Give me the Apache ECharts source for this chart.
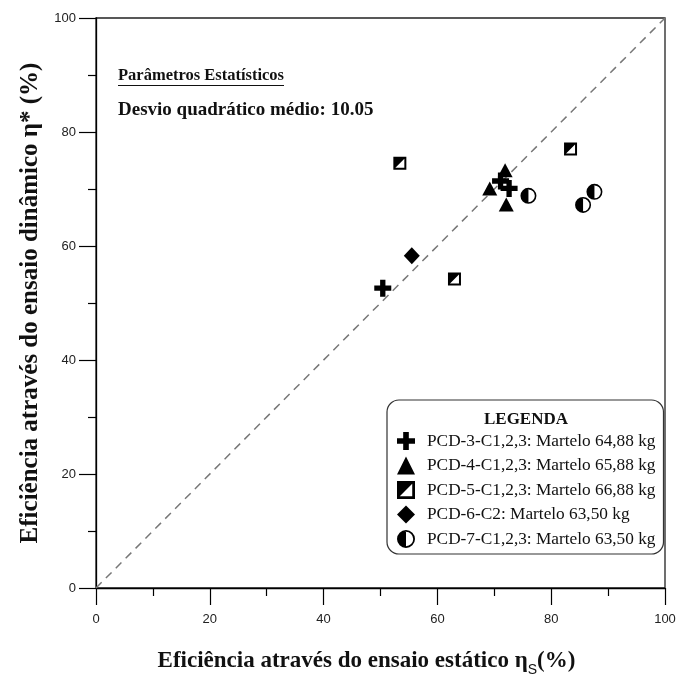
<!DOCTYPE html>
<html>
<head>
<meta charset="utf-8">
<script src="https://cdn.jsdelivr.net/npm/echarts@6/dist/echarts.min.js"></script>
<style>
  html, body { margin: 0; padding: 0; background: #fff; overflow: hidden; }
  #chart { width: 678px; height: 675px; }
</style>
</head>
<body>
<div id="chart"></div>
<script>
// Static efficiency (x) vs dynamic efficiency (y), in %
const pcd3 = [[50.4, 52.6], [71.1, 71.4], [72.6, 70.1]];
const pcd4 = [[71.9, 73.3], [69.2, 70.1], [72.1, 67.3]];
const pcd5 = [[53.4, 74.5], [83.4, 77.0], [63.0, 54.2]];
const pcd6 = [[55.5, 58.3]];
const pcd7 = [[76.0, 68.8], [87.6, 69.5], [85.6, 67.2]];
const identityLine = [[0, 0], [100, 100]];

const seriesNames = [
  'PCD-3-C1,2,3: Martelo 64,88 kg',
  'PCD-4-C1,2,3: Martelo 65,88 kg',
  'PCD-5-C1,2,3: Martelo 66,88 kg',
  'PCD-6-C2: Martelo 63,50 kg',
  'PCD-7-C1,2,3: Martelo 63,50 kg'
];
const axisTicks = [0, 20, 40, 60, 80, 100];
const rmsText = 'Desvio quadrático médio: 10.05';

// Marker shapes: cross, half-filled square, half-filled circle
const plusPath = 'path://M5.5,0H10.5V5.5H16V10.5H10.5V16H5.5V10.5H0V5.5H5.5Z';
const halfSquarePath = 'path://M0,0H13V13H0Z M2,2V11H11V2Z M2,2H11L2,11Z';
const halfCirclePath = 'path://M8,0A8,8 0 1,1 8,16A8,8 0 1,1 8,0Z M8,1.6A6.4,6.4 0 1,0 8,14.4A6.4,6.4 0 1,0 8,1.6Z M8,16A8,8 0 0,1 8,0Z';

const serif = '"Liberation Serif", "Times New Roman", serif';
const sans = '"Liberation Sans", Arial, sans-serif';

const chart = echarts.init(document.getElementById('chart'), null, { renderer: 'canvas', width: 678, height: 675 });

const axisCommon = {
  type: 'value',
  min: 0,
  max: 100,
  interval: 20,
  axisLine: { show: true, onZero: false, lineStyle: { color: '#000', width: 1.3 } },
  axisTick: { show: true, inside: false, length: 17, lineStyle: { color: '#000', width: 1.2 } },
  minorTick: { show: true, splitNumber: 2, length: 8, lineStyle: { color: '#000', width: 1.2 } },
  splitLine: { show: false },
  axisLabel: {
    fontFamily: sans,
    fontSize: 13,
    color: '#222',
    formatter: v => (axisTicks.indexOf(v) >= 0 ? String(v) : '')
  },
  nameLocation: 'middle'
};

function scatter(name, data, symbol, size) {
  return {
    name: name,
    type: 'scatter',
    data: data,
    symbol: symbol,
    symbolSize: size,
    itemStyle: { color: '#000', opacity: 1 },
    z: 5
  };
}

chart.setOption({
  animation: false,
  backgroundColor: '#fff',
  grid: {
    left: 96, width: 569, top: 18, height: 570,
    show: true, borderColor: '#222', borderWidth: 1.3,
    containLabel: false,
    outerBoundsMode: 'none'
  },
  xAxis: Object.assign({}, axisCommon, {
    axisLabel: Object.assign({}, axisCommon.axisLabel, { margin: 25 }),
    name: '{a|Eficiência através do ensaio estático η}{s|S}{a|(%)}',
    nameGap: 57,
    nameTextStyle: {
      padding: [0, 28, 0, 0],
      rich: {
        a: { fontFamily: serif, fontWeight: 'bold', fontSize: 23, color: '#111', lineHeight: 28, verticalAlign: 'bottom' },
        s: { fontFamily: sans, fontSize: 14, color: '#111', lineHeight: 28, verticalAlign: 'bottom', padding: [0, 0, -4, 0] }
      }
    }
  }),
  yAxis: Object.assign({}, axisCommon, {
    axisLabel: Object.assign({}, axisCommon.axisLabel, { margin: 20 }),
    name: 'Eficiência através do ensaio dinâmico η* (%)',
    nameGap: 53,
    nameTextStyle: {
      fontFamily: serif,
      fontWeight: 'bold',
      fontSize: 25,
      color: '#111'
    }
  }),
  legend: {
    orient: 'vertical',
    left: 387,
    top: 400,
    padding: [32, 8, 6, 10],
    itemGap: 6.5,
    itemWidth: 18,
    itemHeight: 18,
    backgroundColor: '#fff',
    borderColor: '#333',
    borderWidth: 1.2,
    borderRadius: 12,
    selectedMode: false,
    data: seriesNames,
    textStyle: {
      fontFamily: serif,
      fontSize: 17.3,
      lineHeight: 18,
      color: '#111',
      padding: [0, 0, 0, 7]
    }
  },
  graphic: [
    {
      type: 'text', left: 118, top: 67, z: 10,
      style: { text: 'Parâmetros Estatísticos', font: 'bold 16.5px ' + serif, fill: '#111' }
    },
    {
      type: 'line', z: 10,
      shape: { x1: 118, y1: 85.5, x2: 284, y2: 85.5 },
      style: { stroke: '#111', lineWidth: 1 }
    },
    {
      type: 'text', left: 118, top: 101, z: 10,
      style: { text: rmsText, font: 'bold 19px ' + serif, fill: '#111' }
    },
    {
      type: 'text', z: 20,
      style: { text: 'LEGENDA', x: 526, y: 420, align: 'center', verticalAlign: 'middle', font: 'bold 17px ' + serif, fill: '#111' }
    }
  ],
  series: [
    {
      name: 'identity',
      type: 'line',
      data: identityLine,
      symbol: 'none',
      silent: true,
      lineStyle: { color: '#777', width: 1.5, type: [8, 6] },
      z: 2
    },
    scatter(seriesNames[0], pcd3, plusPath, 17),
    scatter(seriesNames[1], pcd4, 'triangle', [15, 14]),
    scatter(seriesNames[2], pcd5, halfSquarePath, 13),
    scatter(seriesNames[3], pcd6, 'diamond', [16, 17]),
    scatter(seriesNames[4], pcd7, halfCirclePath, 16)
  ]
});
</script>
</body>
</html>
